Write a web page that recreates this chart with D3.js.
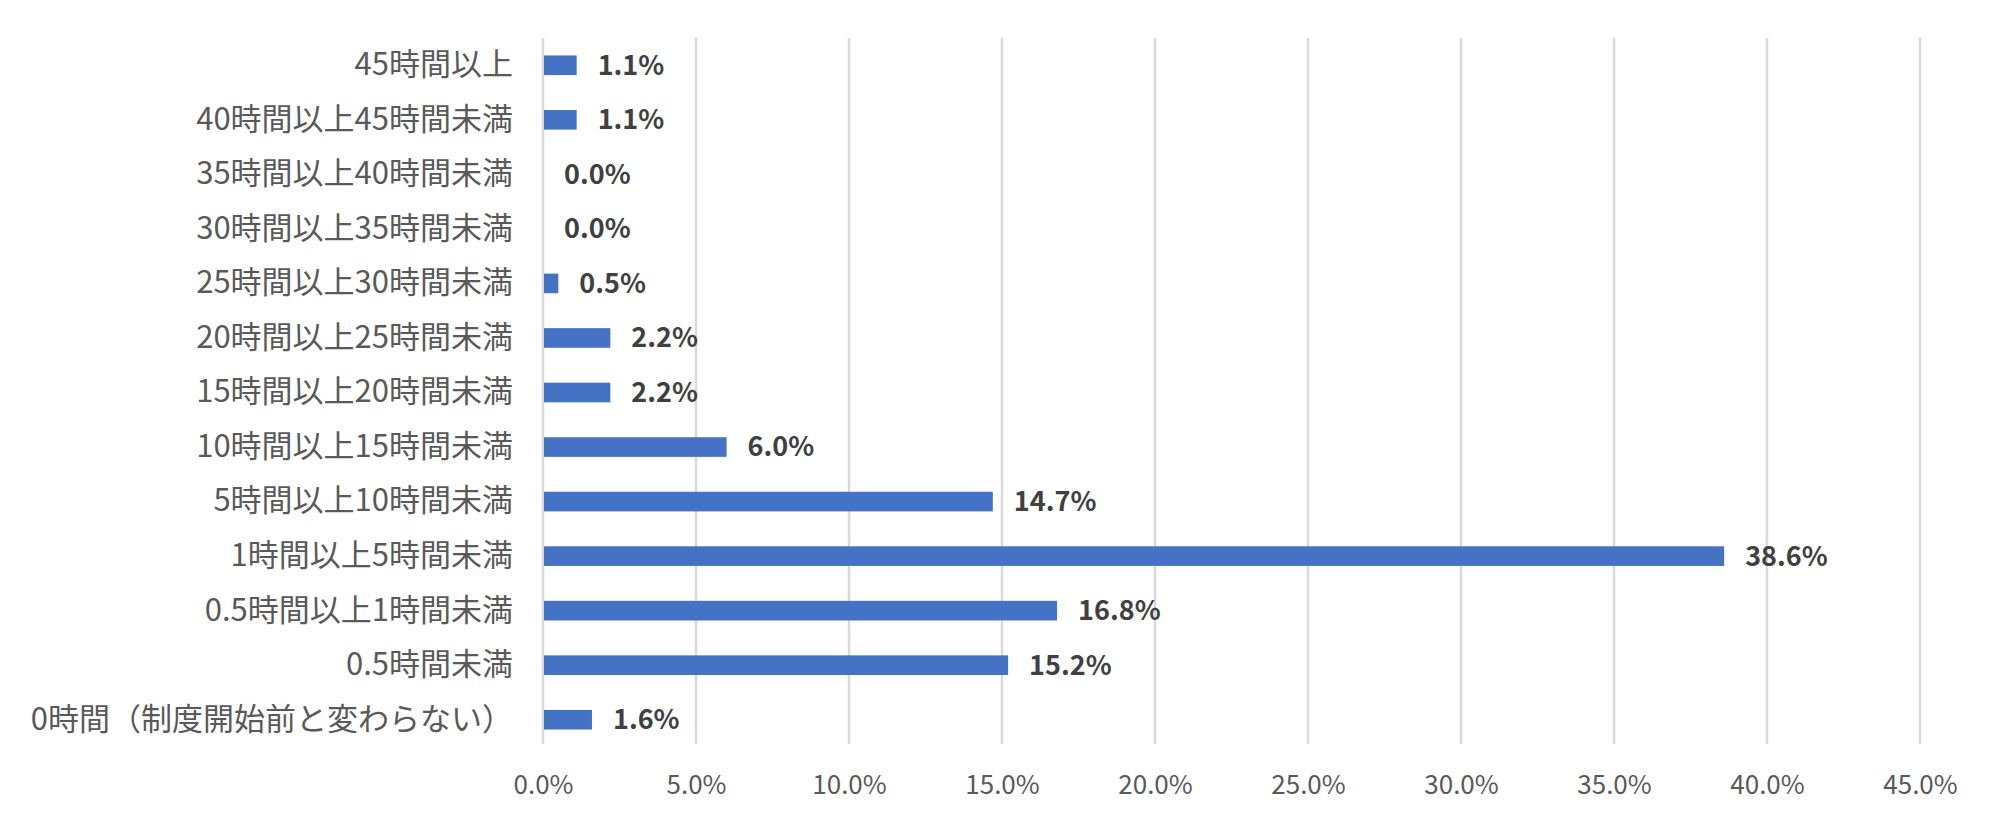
<!DOCTYPE html>
<html><head><meta charset="utf-8">
<script src="https://cdn.jsdelivr.net/npm/d3@7"></script>
<style>html,body{margin:0;padding:0;background:#fff;}</style>
</head><body>
<svg id="chart" width="2001" height="825"></svg>
<script>
const categories = ["45時間以上","40時間以上45時間未満","35時間以上40時間未満","30時間以上35時間未満","25時間以上30時間未満","20時間以上25時間未満","15時間以上20時間未満","10時間以上15時間未満","5時間以上10時間未満","1時間以上5時間未満","0.5時間以上1時間未満","0.5時間未満","0時間（制度開始前と変わらない）"];
const values = [1.1,1.1,0.0,0.0,0.5,2.2,2.2,6.0,14.7,38.6,16.8,15.2,1.6];
const ticks = [0,5,10,15,20,25,30,35,40,45];

(function(){
const svg = d3.select("#chart");
const pL = 543, pR = 1920, pT = 38, pB = 747;
const x = d3.scaleLinear().domain([0,45]).range([pL,pR]);
const y = d3.scaleBand().domain(categories).range([pT,pB]).paddingInner(0.64).paddingOuter(0.32);

// gridlines
svg.append("g").selectAll("line").data(ticks).join("line")
  .attr("x1",d=>x(d)).attr("x2",d=>x(d)).attr("y1",pT).attr("y2",pB-3)
  .attr("stroke","#d9d9d9").attr("stroke-width",2.5);

// x tick labels
const xAxis = d3.axisBottom(x).tickValues(ticks).tickSize(0).tickPadding(0).tickFormat(d=>d.toFixed(1)+"%");
const gx = svg.append("g").attr("transform",`translate(0,${pB+28})`).call(xAxis);
gx.select(".domain").remove();
gx.selectAll("text").attr("font-family","'Noto Sans CJK JP','Noto Sans',sans-serif")
  .attr("font-size",26).attr("fill","#595959").attr("dy","0.35em").attr("y",10);

// y category labels
const yAxis = d3.axisLeft(y).tickSize(0).tickPadding(0);
const gy = svg.append("g").attr("transform",`translate(${pL-30},0)`).call(yAxis);
gy.select(".domain").remove();
gy.selectAll("text").attr("font-family","'Noto Sans CJK JP',sans-serif")
  .attr("font-size",31).attr("fill","#595959").attr("dy","0.32em");

// bars
svg.append("g").selectAll("rect").data(values).join("rect")
  .attr("x",x(0)+1).attr("y",(d,i)=>y(categories[i]))
  .attr("width",d=>Math.max(0,x(d)-x(0)-1)).attr("height",y.bandwidth())
  .attr("fill","#4472c4");

// data labels
svg.append("g").selectAll("text").data(values).join("text")
  .attr("x",d=>x(d)+21).attr("y",(d,i)=>y(categories[i])+y.bandwidth()/2)
  .attr("dy","0.35em")
  .attr("font-family","'Noto Sans CJK JP','Noto Sans',sans-serif")
  .attr("font-weight","bold").attr("font-size",27).attr("fill","#404040")
  .text(d=>d.toFixed(1)+"%");
})();
</script>
</body></html>
